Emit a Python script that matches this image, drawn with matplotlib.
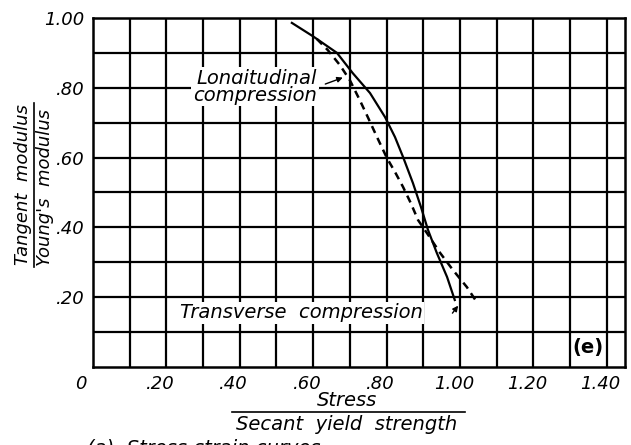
import numpy as np
import matplotlib
matplotlib.use("Agg")
import matplotlib.pyplot as plt
import matplotlib.transforms as mtransforms
from matplotlib.lines import Line2D

# solid curve
solid_x = [0.542, 0.599, 0.665, 0.708, 0.755, 0.796, 0.823, 0.845, 0.872, 0.894, 0.913, 0.937, 0.965, 0.986]
solid_y = [0.986, 0.948, 0.900, 0.842, 0.785, 0.716, 0.659, 0.602, 0.527, 0.458, 0.393, 0.327, 0.258, 0.192]

# dashed curve
dash_x = [0.610, 0.640, 0.673, 0.700, 0.727, 0.749, 0.774, 0.801, 0.823, 0.845, 0.866, 0.886, 0.910, 0.946, 0.981, 1.019, 1.046]
dash_y = [0.940, 0.908, 0.865, 0.822, 0.765, 0.716, 0.659, 0.599, 0.559, 0.516, 0.470, 0.421, 0.384, 0.327, 0.278, 0.229, 0.186]

x_ticks = [0.0, 0.2, 0.4, 0.6, 0.8, 1.0, 1.2, 1.4]
x_labels = ["0", ".20", ".40", ".60", ".80", "1.00", "1.20", "1.40"]
y_ticks = [0.2, 0.4, 0.6, 0.8, 1.0]
y_labels = [".20", ".40", ".60", ".80", "1.00"]

plt.rcParams["font.family"] = "DejaVu Sans"
tick_font = dict(fontsize=13, style="italic", color="black")
lab = dict(fontsize=14, style="italic", color="black")
white = dict(facecolor="white", edgecolor="none", pad=1.0)

fig = plt.figure(figsize=(6.31, 4.45), dpi=100)
ax = fig.add_axes([93 / 631, 78 / 445, 532 / 631, 349 / 445])
ax.set_xlim(0, 1.45)
ax.set_ylim(0, 1.0)

# grid every 0.1
for gx in np.arange(0.1, 1.45, 0.1):
    ax.axvline(gx, color="black", lw=1.6, zorder=1)
for gy in np.arange(0.1, 1.0, 0.1):
    ax.axhline(gy, color="black", lw=1.6, zorder=1)
for s in ax.spines.values():
    s.set_linewidth(1.8)

ax.plot(solid_x, solid_y, color="black", lw=1.6, zorder=3)
ax.plot(dash_x, dash_y, color="black", lw=1.8, dashes=(3, 2.2), zorder=3)

ax.set_xticks(x_ticks)
ax.set_xticklabels(x_labels, **tick_font)
ax.set_yticks(y_ticks)
ax.set_yticklabels(y_labels, **tick_font)
ax.tick_params(length=0, pad=6)
# hand lettered labels sit a little left of their grid lines
for i, t in enumerate(ax.get_xticklabels()):
    dx = -0.12 if i == 0 else -0.06
    t.set_transform(t.get_transform() + mtransforms.ScaledTranslation(dx, 0, fig.dpi_scale_trans))

# annotations
ax.text(0.283, 0.828, "Longitudinal", va="center", ha="left", bbox=white, zorder=2, **lab)
ax.text(0.272, 0.779, "compression", va="center", ha="left", bbox=white, zorder=2, **lab)
ax.annotate("", xy=(0.688, 0.832), xytext=(0.626, 0.808),
            arrowprops=dict(arrowstyle="-|>", color="black", lw=1.0, mutation_scale=8), zorder=4)
ax.text(0.237, 0.155, "Transverse  compression", va="center", ha="left", bbox=white, zorder=2, **lab)
ax.annotate("", xy=(1.0, 0.182), xytext=(0.975, 0.148),
            arrowprops=dict(arrowstyle="-|>", color="black", lw=1.0, mutation_scale=8), zorder=4)
ax.text(1.348, 0.055, "(e)", va="center", ha="center", fontsize=14, fontweight="bold", color="black")

# y label as fraction
ylab = dict(lab, fontsize=13)
fig.text(23 / 631, 1 - 185 / 445, "Tangent  modulus", rotation=90, va="center", ha="center", **ylab)
fig.text(45 / 631, 1 - 188 / 445, "Young's  modulus", rotation=90, va="center", ha="center", **ylab)
fig.add_artist(Line2D([34 / 631, 34 / 631], [1 - 103 / 445, 1 - 267 / 445],
                      transform=fig.transFigure, color="black", lw=1.2))

# x label as fraction
fig.text(347 / 631, 1 - 401 / 445, "Stress", va="center", ha="center", **lab)
fig.add_artist(Line2D([232 / 631, 465 / 631], [1 - 412 / 445, 1 - 412 / 445],
                      transform=fig.transFigure, color="black", lw=1.2))
fig.text(347 / 631, 1 - 424 / 445, "Secant  yield  strength", va="center", ha="center", **lab)

# caption, cut off at the bottom edge
fig.text(87 / 631, 1 - 438 / 445, "(a)  Stress-strain curves", va="top", ha="left", **lab)

fig.savefig("out.png", dpi=100)
